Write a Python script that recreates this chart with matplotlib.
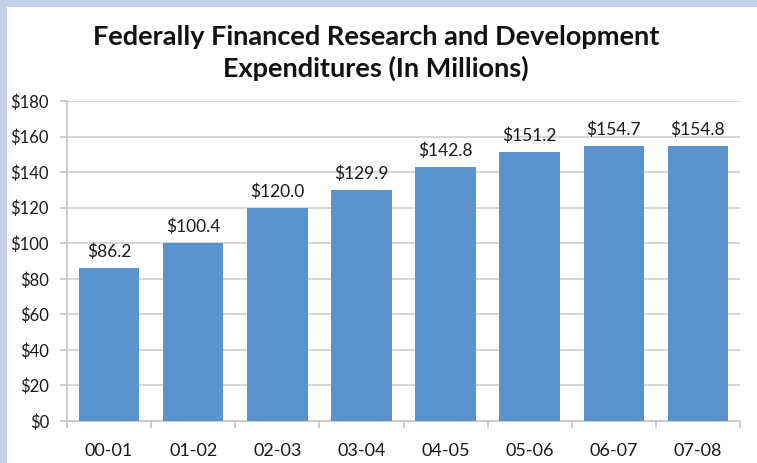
import matplotlib.pyplot as plt

# data
years = ["00-01", "01-02", "02-03", "03-04", "04-05", "05-06", "06-07", "07-08"]
spend = [86.2, 100.4, 120.0, 129.9, 142.8, 151.2, 154.7, 154.8]
y_ticks = [0, 20, 40, 60, 80, 100, 120, 140, 160, 180]

plt.rcParams["font.family"] = ["Lato", "DejaVu Sans"]

fig = plt.figure(figsize=(7.57, 4.63), dpi=100)
fig.patch.set_facecolor("#c5d1ea")

# white panel inside the blue frame
panel = fig.add_axes([7 / 757, 0, 750 / 757, 456 / 463])
panel.set_facecolor("white")
panel.set_xticks([])
panel.set_yticks([])
for s in panel.spines.values():
    s.set_visible(False)

ax = fig.add_axes([67 / 757, 1 - 421 / 463, 673 / 757, 320 / 463])
ax.set_facecolor("none")

x = range(len(years))
ax.bar(x, spend, width=0.72, color="#5b93cf", zorder=3)
for i, v in zip(x, spend):
    ax.text(i, v + 4.5, f"${v:.1f}", ha="center", va="bottom", fontsize=12.5, color="#1a1a1a")

ax.set_xlim(-0.5, len(years) - 0.5)
ax.set_ylim(0, 180)
ax.set_yticks(y_ticks)
ax.set_yticklabels([f"${t}" for t in y_ticks], fontsize=12, color="#1a1a1a")
ax.set_xticks(x)
ax.set_xticklabels(years, fontsize=13, color="#1a1a1a")
ax.tick_params(axis="x", length=0, pad=16)
ax.set_xticks([i + 0.5 for i in range(-1, len(years))], minor=True)
ax.tick_params(axis="x", which="minor", length=5, color="#c8c4c4", width=1.2)
ax.tick_params(axis="y", length=5, color="#c8c4c4", width=1.2, pad=8)
ax.yaxis.grid(True, color="#d6d2d2", linewidth=1.3, zorder=0)
ax.set_axisbelow(True)
for side in ["top", "right"]:
    ax.spines[side].set_visible(False)
ax.spines["left"].set_color("#c8c4c4")
ax.spines["bottom"].set_color("#c8c4c4")
ax.spines["left"].set_linewidth(1.2)
ax.spines["bottom"].set_linewidth(1.2)

fig.text(0.497, 0.886, "Federally Financed Research and Development\nExpenditures (In Millions)",
         ha="center", va="center", fontsize=19.5, fontweight="bold", linespacing=1.32, color="#111111")

fig.savefig("out.png", dpi=100)
